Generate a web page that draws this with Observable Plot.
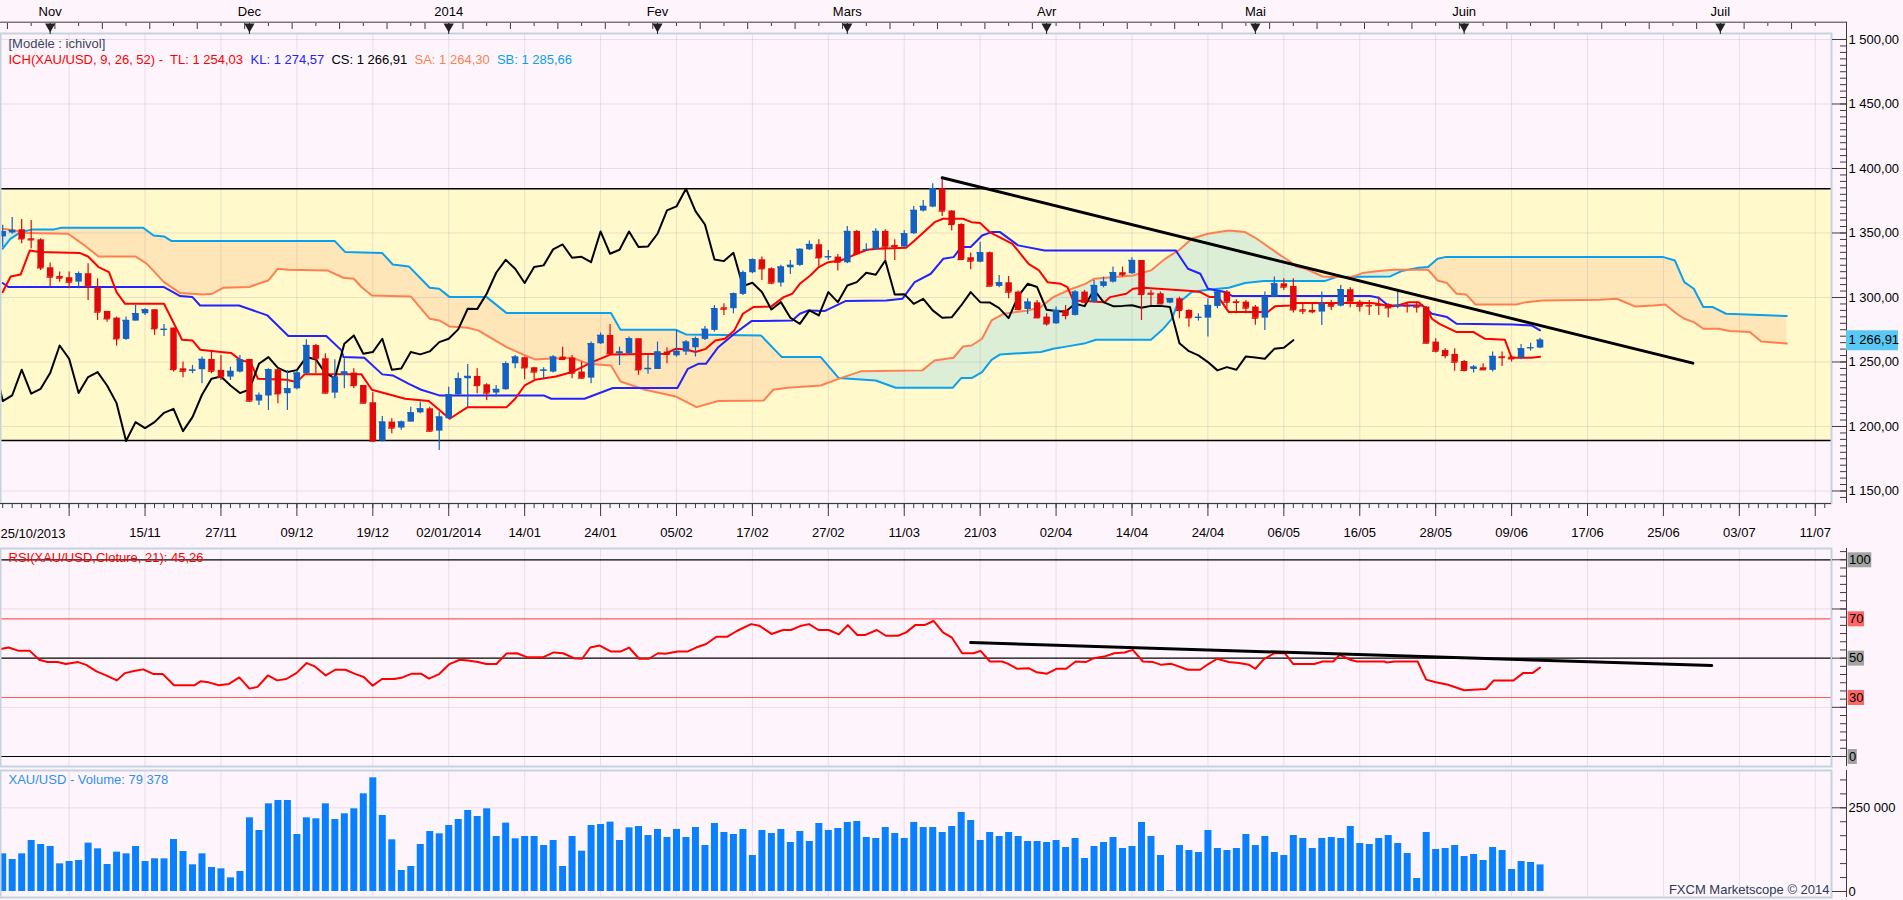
<!DOCTYPE html>
<html lang="fr">
<head>
<meta charset="utf-8">
<title>XAU/USD Ichimoku</title>
<script src="https://cdn.jsdelivr.net/npm/d3@7"></script>
<script src="https://cdn.jsdelivr.net/npm/@observablehq/plot@0.6"></script>
<style>
  html, body { margin: 0; padding: 0; background: #FEF5FC; }
  #chart { position: relative; width: 1903px; height: 900px; overflow: hidden; background: #FEF5FC; }
  #chart svg { position: absolute; left: 0; }
</style>
</head>
<body>
<div id="chart"></div>
<script>
// ---------------- DATA ----------------
// daily candles, bar index 0 = 25/10/2013 ... 162 = 12/06/2014
const open = [
1347,1350,1352.5,1345.5,1344.7,1323.0,1316.3,1315.3,1311.9,1318.4,
1307.5,1289.2,1284.0,1267.5,1281.7,1287.4,1290.5,1274.8,1276.3,1244.7,
1243.0,1244.0,1252.0,1243.5,1238.3,1242.2,1252.0,1219.7,1223.6,1244.0,
1225.4,1229.2,1240.9,1262.8,1252.5,1225.9,1239.6,1241.4,1231.8,1218.4,
1188.7,1203.4,1198.8,1203.4,1210.6,1213.7,1196.4,1206.0,1224.6,1237.0,
1238.8,1232.3,1225.9,1228.5,1248.6,1253.3,1245.5,1243.0,1242.2,1253.8,
1253.0,1242.2,1237.5,1264.1,1270.6,1256.4,1256.4,1268.0,1244.0,1244.2,
1257.7,1254.8,1257.7,1261.0,1267.5,1274.5,1292.0,1291.3,1302.4,1319.2,
1329.2,1322.3,1311.2,1323.0,1324.9,1337.0,1340.9,1331.0,1331.3,1326.9,
1351.2,1336.5,1337.3,1351.2,1340.4,1339.1,1349.4,1367.0,1370.1,1384.3,
1367.0,1356.6,1330.8,1327.4,1334.7,1308.6,1311.4,1304.2,1290.7,1295.9,
1284.8,1279.6,1290.0,1286.1,1304.2,1296.4,1308.6,1311.9,1319.2,1318.4,
1328.7,1303.4,1302.9,1295.7,1299.0,1290.0,1284.0,1284.0,1293.0,1304.2,
1296.7,1296.4,1292.6,1284.0,1300.3,1310.6,1308.6,1290.5,1290.0,1288.7,
1295.9,1293.3,1306.0,1296.4,1293.9,1294.5,1294.6,1293.0,1293.9,1293.9,
1292.6,1265.4,1258.9,1255.9,1250.4,1244.2,1245.5,1243.5,1254.0,1253.8,
1253.3,1260.5,1260.8];
const high = [
1356,1362,1360.5,1359.7,1345.5,1326.7,1319.7,1319.7,1319.7,1326.1,
1314.5,1289.2,1284.8,1284.8,1293.8,1291.3,1290.5,1279.1,1276.3,1249.9,
1247.3,1253.8,1259.0,1255.1,1246.0,1255.1,1252.0,1225.9,1244.8,1244.8,
1243.5,1243.5,1267.2,1263.6,1256.4,1251.7,1252.5,1244.8,1231.8,1226.1,
1207.8,1206.0,1204.2,1215.0,1218.9,1215.0,1211.2,1230.5,1241.4,1248.1,
1244.8,1233.1,1231.8,1249.9,1255.1,1253.8,1246.0,1245.5,1255.1,1261.5,
1255.1,1249.9,1265.4,1272.4,1279.1,1261.5,1269.3,1268.0,1255.1,1265.4,
1261.0,1274.5,1266.7,1269.3,1277.6,1293.8,1295.1,1303.4,1320.5,1330.0,
1331.3,1323.0,1324.9,1328.7,1337.8,1343.7,1344.7,1336.5,1333.4,1355.1,
1352.0,1341.6,1353.3,1352.5,1344.7,1352.0,1370.6,1375.2,1388.2,1392.8,
1367.5,1357.2,1334.4,1342.9,1335.2,1317.1,1316.3,1305.0,1299.0,1297.7,
1287.4,1292.6,1293.8,1305.5,1305.5,1313.2,1315.8,1323.6,1323.6,1330.8,
1328.7,1305.5,1304.2,1299.0,1300.3,1290.5,1287.4,1299.0,1305.5,1305.5,
1298.2,1297.7,1293.8,1304.2,1315.8,1314.5,1314.5,1295.1,1295.1,1304.2,
1297.7,1309.3,1307.5,1297.7,1297.7,1300.3,1295.1,1305.5,1296.4,1296.4,
1293.1,1268.0,1260.2,1260.2,1251.2,1247.3,1248.6,1257.7,1257.7,1255.0,
1263.6,1264.6,1268.5];
const low = [
1339,1349,1341.6,1337.8,1321.0,1308.6,1311.9,1306.8,1306.8,1297.7,
1282.2,1280.9,1262.3,1266.7,1281.7,1286.1,1270.6,1269.8,1242.2,1237.8,
1240.9,1233.1,1240.9,1235.7,1235.7,1241.4,1218.9,1216.3,1212.4,1217.6,
1212.4,1228.5,1240.4,1240.9,1225.4,1221.5,1229.2,1229.2,1217.6,1187.9,
1187.9,1194.4,1197.0,1203.4,1209.9,1195.7,1181.4,1206.0,1224.1,1215.0,
1225.4,1220.2,1222.8,1228.0,1244.8,1236.2,1236.2,1236.2,1241.4,1251.7,
1237.0,1237.0,1233.1,1263.6,1255.9,1247.3,1255.9,1239.6,1240.4,1244.2,
1248.6,1253.8,1255.1,1253.8,1266.7,1273.2,1286.1,1287.4,1301.6,1318.4,
1313.2,1309.9,1308.1,1317.9,1324.1,1336.5,1323.6,1328.7,1320.5,1326.1,
1333.4,1336.0,1336.5,1328.7,1328.7,1338.6,1348.9,1366.2,1369.6,1362.8,
1351.5,1328.7,1321.5,1326.9,1308.6,1307.5,1299.0,1290.0,1286.9,1283.5,
1277.8,1279.1,1282.7,1285.6,1295.1,1295.7,1307.5,1311.2,1315.8,1317.9,
1282.2,1293.8,1294.6,1295.1,1283.5,1277.0,1281.7,1269.3,1291.3,1291.3,
1287.4,1287.4,1278.4,1274.5,1299.8,1305.5,1287.9,1286.9,1287.4,1278.3,
1290.0,1292.6,1292.0,1288.7,1286.1,1286.1,1284.3,1291.3,1287.9,1288.0,
1264.1,1256.9,1252.5,1242.9,1242.2,1241.4,1243.5,1242.2,1246.6,1250.0,
1251.7,1258.4,1260.3];
const close = [
1351,1352,1345.5,1344.7,1323.0,1315.8,1315.0,1311.9,1318.4,1308.6,
1288.7,1283.5,1268.0,1282.2,1287.4,1290.5,1275.8,1275.3,1244.2,1242.9,
1243.7,1252.0,1242.9,1238.3,1242.7,1251.7,1219.7,1224.1,1244.0,1225.4,
1229.2,1241.4,1262.8,1252.5,1225.9,1238.3,1242.2,1231.8,1218.1,1188.7,
1203.4,1198.8,1203.4,1210.6,1213.7,1196.4,1207.3,1224.6,1237.0,1238.8,
1231.8,1225.9,1228.7,1248.6,1253.8,1245.5,1242.2,1243.7,1253.8,1252.0,
1241.4,1237.5,1264.1,1270.6,1256.4,1257.7,1268.0,1244.0,1245.0,1257.7,
1255.9,1258.2,1265.4,1268.0,1275.3,1291.3,1291.0,1302.9,1319.2,1329.2,
1322.3,1311.2,1323.6,1324.9,1337.3,1341.1,1330.8,1331.5,1327.4,1351.2,
1333.9,1337.0,1351.2,1339.1,1339.6,1349.4,1367.5,1370.6,1384.3,1367.0,
1356.6,1329.5,1328.2,1334.7,1308.8,1311.4,1304.2,1290.7,1296.4,1284.3,
1279.6,1290.0,1286.1,1304.2,1296.4,1309.3,1311.9,1319.2,1317.6,1328.7,
1302.4,1302.6,1295.1,1299.0,1290.0,1284.3,1284.6,1293.8,1304.2,1296.4,
1296.2,1291.8,1284.0,1300.8,1310.6,1308.1,1290.5,1289.5,1289.0,1295.1,
1293.3,1306.0,1296.4,1293.3,1293.5,1294.0,1292.0,1293.5,1293.5,1292.6,
1264.6,1258.4,1255.1,1249.9,1243.5,1246.0,1244.0,1254.3,1253.5,1252.5,
1260.2,1261.0,1266.91];
const volume = [
112500,95600,112500,152400,140400,134500,82700,89600,92600,144400,
127500,80700,117500,112500,134500,89600,97600,97600,155400,119500,
79700,112500,71700,67700,40800,59800,220100,182300,261900,271900,
271900,170300,220100,217100,261900,215100,232100,247000,291800,339600,
227100,154400,62700,74700,140400,179300,172300,197200,215100,242000,
224100,247000,164300,204200,157400,164300,164300,137400,152400,74700,
164300,120500,197200,200200,207200,152400,190200,194200,167300,185300,
161400,185300,161400,191200,137400,203200,176300,170300,185300,107600,
182300,173300,185300,146400,179300,149400,203200,182300,188200,206200,
209200,161400,158400,191200,173300,158400,206200,191200,191200,176300,
194200,236100,212100,152400,176300,164300,176300,164300,149400,149400,
146400,152400,131500,158400,98600,134500,146400,161400,128500,134500,
206200,164300,107600,2000,137400,122500,116500,182300,128500,122500,
128500,170300,137400,164300,116500,107600,167300,158400,128500,158400,
161400,158400,194200,143400,140400,158400,167300,143400,113500,38800,
176300,125500,128500,137400,104600,110600,92600,131500,122500,65700,
89600,86700,79378];

// Ichimoku lines: [bar index, price]
const tenkan = [[0,1304.2],[0.84,1316.3],[1.9,1317.9],[2.86,1336.5],[3.85,1335.2],[8.15,1334.4],[9,1331.8],[10.1,1323.6],[11.2,1319.7],[12,1304.2],[12.9,1295.1],[17,1295.1],[18.9,1267.2],[20,1266.7],[20.8,1259.5],[23,1257.7],[24.1,1256.9],[25.1,1251.2],[26.1,1249.9],[26.9,1237.0],[29.9,1236.2],[31,1234.4],[31.8,1240.4],[37.8,1240.4],[38.9,1228.5],[42.4,1221.5],[44.9,1219.7],[47.1,1206.0],[49,1215.0],[53.1,1215.0],[54,1221.5],[55,1231.8],[56.1,1236.2],[58.3,1238.8],[60,1242.2],[62.1,1249.9],[64.1,1255.9],[69.8,1256.4],[70.9,1260.2],[72,1259.7],[73,1257.7],[74.1,1260.2],[75.1,1266.7],[76.1,1268.0],[77.1,1274.5],[78,1287.4],[79.1,1292.6],[81,1293.1],[82.3,1300.3],[83.2,1302.9],[84,1310.6],[85.1,1317.1],[86,1323.6],[87,1327.4],[88.3,1328.7],[89.2,1331.3],[90,1333.9],[91.1,1337.0],[92.2,1337.8],[95.2,1338.6],[96.1,1344.2],[98.2,1358.4],[99.1,1361.0],[101.2,1361.0],[102.1,1358.4],[103,1357.7],[104,1350.7],[106.4,1341.6],[108.1,1326.1],[109.2,1321.0],[110.1,1311.9],[111.5,1310.6],[112.2,1308.1],[112.8,1297.7],[114.1,1297.2],[116.1,1296.4],[116.7,1300.3],[118.4,1302.9],[119.1,1306.8],[120.2,1307.5],[125.3,1305.0],[126.2,1304.2],[127.2,1300.3],[128.1,1300.3],[129.2,1288.7],[133.3,1288.7],[134.1,1293.3],[135.7,1293.8],[136.3,1295.7],[144.3,1295.7],[145.3,1294.6],[146.2,1293.1],[147,1293.8],[148.2,1296.4],[149.2,1296.4],[150.2,1290.0],[150.6,1283.5],[151.4,1279.6],[153.2,1273.2],[155,1273.2],[156.2,1268.0],[158.3,1267.2],[159,1253.3],[161.1,1253.3],[162,1254.03]];
const kijun = [[0,1311.2],[0.6,1308.1],[17,1308.1],[18.7,1301.1],[20,1300.3],[20.8,1293.8],[24.9,1293.8],[27.9,1286.1],[30.1,1270.1],[34.1,1270.1],[35.7,1259.0],[35.9,1253.8],[38.1,1253.3],[40,1240.4],[41.1,1239.6],[42.8,1233.1],[44.1,1228.5],[46,1224.1],[57,1224.1],[57.8,1221.5],[61.3,1221.5],[64.3,1229.8],[71.1,1229.8],[72.2,1244.7],[73.3,1248.6],[74.1,1248.6],[75.4,1261.5],[77.1,1271.9],[78.9,1281.7],[83.2,1282.2],[84,1287.4],[84.9,1290.0],[86.6,1289.5],[88.8,1297.2],[93.1,1297.7],[94.8,1299.0],[96.1,1311.9],[97.8,1318.4],[99.1,1330.0],[100.2,1331.3],[101,1339.1],[102,1339.1],[103.2,1348.1],[104.2,1350.7],[105.1,1350.7],[107,1340.4],[109.8,1336.5],[123.6,1336.5],[124.9,1322.3],[126.2,1318.4],[127,1306.8],[128.8,1304.2],[129.6,1301.1],[144.1,1301.1],[145,1299.8],[146,1293.8],[149.6,1293.8],[150.6,1287.4],[152.2,1284.8],[153.2,1279.6],[159.1,1279.1],[161.1,1278.3],[162,1274.57]];
const senkouA = [[0,1353.3],[1.3,1352.0],[2.4,1349.9],[6.9,1349.4],[8.4,1341.6],[10.1,1331.8],[14,1331.8],[15.2,1326.1],[17,1311.9],[18.7,1303.4],[21.1,1302.4],[22.1,1302.9],[23.2,1307.5],[26,1308.1],[26.9,1310.6],[28,1313.2],[29,1322.3],[30.1,1321.5],[34.2,1321.0],[35.9,1315.3],[37,1314.5],[37.8,1308.1],[38.9,1301.6],[43,1300.8],[45,1283.5],[46,1282.2],[47.1,1277.6],[49,1276.5],[50.1,1274.5],[53.1,1261.5],[54.8,1255.9],[56.1,1252.0],[57.4,1252.5],[60,1253.3],[61.7,1248.6],[64.1,1247.3],[65.1,1234.9],[67.7,1228.5],[70.9,1223.3],[73.1,1215.0],[75.4,1219.7],[80.2,1220.2],[81.2,1228.5],[82.7,1230.0],[86.2,1231.8],[88.3,1237.5],[90.5,1242.9],[96.9,1243.5],[98.2,1251.2],[100.2,1253.3],[101.2,1262.1],[102.1,1262.8],[103.2,1268.0],[104.2,1282.2],[105.5,1287.4],[108.1,1290.0],[109.4,1292.6],[110.7,1300.3],[112.4,1306.0],[114.1,1310.6],[115,1314.5],[119.1,1317.1],[121,1321.0],[122.5,1330.0],[124,1337.0],[125.3,1345.5],[127,1349.4],[129.2,1352.0],[130.9,1350.7],[132,1346.3],[134.5,1333.4],[135.5,1328.7],[136.3,1324.1],[137.3,1322.3],[139.1,1316.3],[140.1,1315.8],[142.1,1315.8],[143.3,1318.9],[145,1320.5],[146.6,1321.5],[150.2,1321.5],[151.2,1313.2],[152.2,1311.2],[153.2,1302.9],[154.2,1302.4],[155.2,1294.6],[159.5,1294.6],[160.5,1296.4],[162.3,1297.7],[168.3,1298.2],[170.1,1299.0],[172,1293.1],[174,1293.8],[175.2,1294.6],[176.4,1287.4],[177.2,1283.5],[178.2,1280.9],[179.2,1275.8],[180.8,1275.8],[182,1274.0],[184.1,1273.2],[185.3,1265.9],[188,1264.3]];
const senkouB = [[0,1337.8],[0.8,1345.5],[1.9,1350.7],[3.2,1352.8],[5.4,1352.8],[6.2,1354.1],[14.8,1354.1],[15.9,1348.1],[17,1347.3],[17.8,1343.7],[35,1343.7],[36.1,1335.2],[40,1334.4],[41.1,1325.6],[42.8,1324.1],[45,1307.5],[46,1306.8],[47.1,1300.3],[51,1300.3],[53.1,1287.9],[64.1,1287.9],[65.1,1275.0],[70.9,1275.0],[72,1271.4],[79.9,1270.6],[82.1,1253.8],[86.2,1253.8],[88.1,1237.5],[92,1235.7],[94.1,1230.0],[100.1,1230.0],[101,1237.5],[102.1,1237.5],[103.2,1242.2],[104.2,1251.7],[105.1,1255.9],[109.4,1257.7],[110.7,1260.2],[112.2,1262.1],[114.1,1264.6],[115.2,1267.2],[121,1267.2],[122.3,1275.8],[123.2,1283.5],[123.8,1295.1],[125.3,1304.2],[127,1306.0],[129.2,1307.5],[130.9,1311.2],[132.9,1312.7],[139.3,1312.7],[140.5,1315.8],[146.2,1316.3],[147.4,1320.5],[149.2,1323.0],[150.2,1323.6],[151.2,1330.0],[152,1331.3],[175,1331.3],[176.2,1328.7],[177.2,1311.9],[178.2,1306.8],[179.2,1292.6],[180.2,1292.6],[181.6,1287.4],[188,1285.66]];
const priceTrend = [[99,1392.8],[178.1,1249.1]];
const channel = [1189.2, 1384.3];

// RSI(21): [bar index, value]
const rsi = [[-0.23,54.7],[0.63,55.4],[1.7,53.7],[2.86,53.7],[3.85,49.2],[4.71,48.0],[5.79,48.0],[6.65,47.0],[7.94,48.0],[8.8,46.6],[9.88,43.3],[10.95,41.1],[12.03,38.7],[12.89,42.4],[13.96,43.6],[14.82,44.3],[15.9,41.9],[16.88,41.9],[18.05,36.2],[20.2,36.2],[20.84,38.2],[21.7,37.7],[22.78,36.2],[23.85,36.9],[24.93,40.2],[26.0,34.5],[26.86,35.4],[27.94,41.2],[28.93,38.7],[29.88,39.4],[30.95,42.4],[32.03,47.5],[32.89,45.8],[34.05,41.2],[35.04,44.1],[36.11,44.1],[37.19,41.9],[38.05,40.4],[38.99,36.0],[39.98,39.4],[41.27,39.4],[42.13,40.2],[43.12,42.1],[44.07,42.1],[44.93,39.6],[46.0,41.9],[47.08,47.0],[48.16,49.2],[49.02,48.8],[50.09,48.0],[50.95,47.0],[52.03,47.0],[53.1,52.4],[54.18,52.5],[55.25,50.5],[56.97,50.5],[58.05,52.9],[59.04,52.5],[60.2,50.0],[61.06,49.7],[61.92,55.4],[62.91,56.4],[64.07,53.4],[65.15,53.4],[66.0,55.4],[67.06,49.7],[68.1,49.7],[69.06,52.5],[69.83,52.2],[71.12,53.4],[72.2,53.4],[73.06,55.4],[74.13,57.2],[75.21,60.9],[76.37,60.9],[77.36,63.8],[78.86,67.3],[79.72,66.5],[81.01,62.3],[82.22,64.3],[83.08,64.3],[84.02,66.3],[84.97,67.3],[85.96,64.3],[87.04,64.3],[88.11,62.1],[89.06,66.8],[90.05,61.8],[90.91,61.8],[92.11,64.3],[93.06,61.4],[94.35,61.4],[95.21,63.1],[96.15,66.8],[97.14,66.8],[98.09,68.9],[99.08,63.1],[100.03,60.4],[101.1,52.5],[102.3,52.5],[103.04,53.7],[104.03,48.3],[105.32,48.3],[105.96,47.1],[106.91,44.6],[108.11,44.9],[108.97,42.8],[110.05,42.1],[111.04,44.6],[112.07,44.6],[113.06,48.3],[114.13,48.0],[114.99,50.0],[116.07,50.8],[117.14,52.5],[118.22,52.9],[119.08,54.2],[120.15,48.3],[121.23,48.0],[122.09,46.6],[123.16,47.1],[124.88,44.1],[126.17,44.1],[127.04,47.0],[127.98,49.7],[129.19,48.0],[130.26,47.5],[131.34,46.6],[132.0,44.6],[132.9,49.5],[134.0,52.5],[135.1,52.5],[136.0,47.0],[138.2,47.0],[139.1,48.3],[140.2,48.3],[140.9,51.7],[142.0,49.2],[142.7,48.3],[145.6,48.3],[145.8,47.8],[146.7,48.3],[149.1,48.3],[150.0,39.1],[150.9,37.9],[152.3,36.5],[154.0,33.7],[156.3,34.3],[157.1,38.6],[159.2,38.6],[160.2,42.4],[161.2,42.4],[162.0,45.26]];
const rsiTrend = [[102,57.9],[180.1,46.3]];
const rsiLevels = [100, 70, 50, 30, 0];
const rsiGrid = [25, 75];

// axes / labels
const monthIdx = [5, 26, 47, 69, 89, 110, 132, 154, 181];
const monthLabels = ["Nov", "Dec", "2014", "Fev", "Mars", "Avr", "Mai", "Juin", "Juil"];
const weekIdx = [1,6,11,16,21,26,31,36,41,45,49,54,59,64,69,74,79,84,89,94,99,104,109,114,119,124,129,134,139,144,149,154,159,164,169,174,179,184,189];
const dateTickIdx = [7,15,23,31,39,47,55,63,71,79,87,95,103,111,119,127,135,143,151,159,167,175,183,191];
const dateLabels = ["","15/11","27/11","09/12","19/12","02/01/2014","14/01","24/01","05/02","17/02","27/02","11/03","21/03","02/04","14/04","24/04","06/05","16/05","28/05","09/06","17/06","25/06","03/07","11/07"];
const firstDateLabel = "25/10/2013";
const priceTicks = [1150, 1200, 1250, 1300, 1350, 1400, 1450, 1500];
const volTicks = [0, 250000];
const legendModel = "[Modèle : ichivol]";
const legendParts = ["ICH(XAU/USD, 9, 26, 52) -  TL: 1 254,03", "KL: 1 274,57", "CS: 1 266,91", "SA: 1 264,30", "SB: 1 285,66"];
const rsiTitle = "RSI(XAU/USD,Cloture, 21): 45,26";
const volTitle = "XAU/USD - Volume: 79 378";
const credit = "FXCM Marketscope © 2014";

// ---------------- STYLE / LAYOUT ----------------
const FONT = '"Liberation Sans", Arial, sans-serif';
const C = {
  blue: "#1461C4", red: "#E00A0A", tenkan: "#FF0000", kijun: "#2323FF", ssa: "#FF7F50", ssb: "#0AA0EC",
  band: "#FFF9CC", cloudUp: "#DCEFD6", cloudDown: "#FFE6B8", grid: "#8A809E", frame: "#C6D3DD",
  axis: "#3C3C3C", vol: "#0A80FF", rsi: "#FF0000", rsiBand: "#FF5A5A", hl: "#5AC8F5", boxGrey: "#A3A3A3", boxRed: "#FF6666"
};
const legendColors = [C.tenkan, C.kijun, "#000000", C.ssa, C.ssb];
const W = 1903, FRAME_R = 1831, MR = W - FRAME_R;
const X0 = -0.2318, X1 = 192.71;          // bar-index extent of the plot frames
const Y_MAIN = [1140.3, 1504.65], Y_RSI = [-5.08, 105.74], Y_VOL = [-17921, 361400];
const baseStyle = {background: "transparent", fontFamily: FONT, fontSize: "13px", color: "#000", overflow: "visible"};
const loc = d3.formatLocale({decimal: ",", thousands: " ", grouping: [3], currency: ["", ""]});
const fmtPrice = loc.format(",.2f"), fmtVol = loc.format(",d");
const meas = document.createElement("canvas").getContext("2d");
meas.font = '13px "Liberation Sans", Arial, sans-serif';
const tw = s => meas.measureText(s).width;

// ---------------- DERIVED TABLES ----------------
const bars = close.map((c, i) => ({i, o: open[i], h: high[i], l: low[i], c, col: c >= open[i] ? C.blue : C.red}));
const chikou = close.slice(25).map((c, k) => [k - 1, c]);     // lagging span = close shifted 26 bars back
const vol = volume.map((v, i) => ({i, v}));
function valueAt(series, x) {
  if (x <= series[0][0]) return series[0][1];
  for (let k = 1; k < series.length; k++) {
    const [xa, ya] = series[k - 1], [xb, yb] = series[k];
    if (x <= xb) return ya + (yb - ya) * (x - xa) / (xb - xa);
  }
  return series[series.length - 1][1];
}
const cloudX = Array.from(new Set([...senkouA, ...senkouB].map(d => d[0]))).sort((a, b) => a - b);
const cloud = [];
cloudX.forEach(x => {
  const a = valueAt(senkouA, x), b = valueAt(senkouB, x);
  if (cloud.length) {
    const p = cloud[cloud.length - 1], d0 = p.a - p.b, d1 = a - b;
    if (d0 * d1 < 0) { const t = d0 / (d0 - d1); const yc = p.a + t * (a - p.a); cloud.push({i: p.i + t * (x - p.i), a: yc, b: yc}); }
  }
  cloud.push({i: x, a, b});
});
const label = new Map(dateTickIdx.map((d, k) => [d, dateLabels[k]]));
const minor = (lo, hi, step) => d3.range(lo, hi + 1e-6, step);
const xs = d => d[0], ys = d => d[1];
const chart = document.getElementById("chart");
function place(svg, top) { svg.style.top = top + "px"; chart.appendChild(svg); }
const lastClose = close[close.length - 1];

// ---------------- MAIN PANEL ----------------
const legendMarks = [Plot.text([legendModel], {frameAnchor: "top-left", dx: 8, dy: 10.3, text: d => d, fill: "#3A4660", textAnchor: "start", lineAnchor: "middle"})];
let lx = 8;
legendParts.forEach((t, k) => {
  legendMarks.push(Plot.text([t], {frameAnchor: "top-left", dx: lx, dy: 26, text: d => d, fill: legendColors[k], textAnchor: "start", lineAnchor: "middle"}));
  lx += tw(t) + 7.2;
});

const main = Plot.plot({
  width: W, height: 547, marginTop: 33, marginBottom: 44, marginLeft: 0, marginRight: MR,
  style: baseStyle,
  x: {domain: [X0, X1], axis: null, label: null},
  y: {domain: Y_MAIN, axis: null, label: null},
  marks: [
    Plot.rect([channel], {x1: () => X0, x2: () => X1, y1: d => d[0], y2: d => d[1], fill: C.band}),
    Plot.areaY(cloud, {x: "i", y1: "a", y2: d => Math.max(d.a, d.b), fill: C.cloudDown, clip: true}),
    Plot.areaY(cloud, {x: "i", y1: "b", y2: d => Math.max(d.a, d.b), fill: C.cloudUp, clip: true}),
    Plot.gridX(dateTickIdx, {stroke: C.grid, strokeOpacity: 0.2}),
    Plot.gridY(priceTicks, {stroke: C.grid, strokeOpacity: 0.2}),
    Plot.ruleY(channel, {stroke: "#000", strokeWidth: 1.5}),
    Plot.line(senkouB, {x: xs, y: ys, stroke: C.ssb, strokeWidth: 2, clip: true}),
    Plot.line(senkouA, {x: xs, y: ys, stroke: C.ssa, strokeWidth: 2, clip: true}),
    Plot.line(kijun, {x: xs, y: ys, stroke: C.kijun, strokeWidth: 2, clip: true}),
    Plot.line(tenkan, {x: xs, y: ys, stroke: C.tenkan, strokeWidth: 2, clip: true}),
    Plot.line(chikou, {x: xs, y: ys, stroke: "#000", strokeWidth: 2, clip: true}),
    Plot.ruleX(bars, {x: "i", y1: "l", y2: "h", stroke: "col", strokeWidth: 1.2, clip: true}),
    Plot.ruleX(bars, {x: "i", y1: "o", y2: "c", stroke: "col", strokeWidth: 6.5, clip: true}),
    Plot.ruleY(bars, {y: "c", x1: d => d.i - 0.34, x2: d => d.i + 0.34, stroke: "col", strokeWidth: 1.3, clip: true}),
    Plot.line(priceTrend, {x: xs, y: ys, stroke: "#000", strokeWidth: 3}),
    ...legendMarks,
    Plot.frame({stroke: C.frame, strokeWidth: 2}),
    // top (month) axis
    Plot.ruleY([Y_MAIN[1]], {dy: -11.3, stroke: C.axis, insetRight: -15}),
    Plot.axisX(weekIdx.map(d => d - 0.5), {anchor: "top", tickSize: 6, dy: -5, tickFormat: () => "", stroke: C.axis, label: null}),
    Plot.axisX(weekIdx.map(d => d + 2), {anchor: "top", tickSize: 3, dy: -8, tickFormat: () => "", stroke: C.axis, label: null}),
    Plot.axisX(monthIdx, {anchor: "top", tickSize: 11, tickFormat: () => "", stroke: "#222", label: null}),
    Plot.dot(monthIdx, {x: d => d, frameAnchor: "top", dy: -7, symbol: "triangle", r: 3.8, rotate: 180, fill: "#222", stroke: "none"}),
    Plot.text(monthIdx, {x: d => d, frameAnchor: "top", dy: -22, text: (d, i) => monthLabels[i], lineAnchor: "middle", fill: "#000"}),
    // bottom (date) axis
    Plot.ruleY([Y_MAIN[0]], {stroke: C.axis}),
    Plot.axisX(d3.range(0, 193), {anchor: "bottom", tickSize: 5, tickFormat: () => "", stroke: C.axis, label: null}),
    Plot.axisX(dateTickIdx, {anchor: "bottom", tickSize: 13, tickPadding: 11, tickFormat: d => label.get(d), stroke: C.axis, fill: "#000", label: null}),
    Plot.text([firstDateLabel], {frameAnchor: "bottom-left", dy: 30, text: d => d, textAnchor: "start", lineAnchor: "middle", fill: "#000"}),
    // right (price) axis
    Plot.ruleX([X1], {dx: 15, stroke: C.axis, insetTop: -11.3}),
    Plot.axisY(minor(1145, 1504, 5), {anchor: "right", tickSize: 6, dx: 8, tickFormat: () => "", stroke: C.axis, label: null}),
    Plot.ruleY([lastClose], {x1: () => X1, x2: () => X1, dx: 15, insetRight: -52, strokeWidth: 20, stroke: C.hl}),
    Plot.axisY(priceTicks, {anchor: "right", tickSize: 14, tickPadding: 3, tickFormat: fmtPrice, stroke: C.axis, fill: "#000", label: null}),
    Plot.text([lastClose], {x: () => X1, y: d => d, dx: 17, text: fmtPrice, textAnchor: "start", lineAnchor: "middle", fill: "#000"})
  ]
});
place(main, 0);

// ---------------- RSI PANEL ----------------
const rsiBoxes = rsiLevels.map(v => {
  const t = String(v), w = tw(t) + 2;
  const fill = (v === 70 || v === 30) ? C.boxRed : C.boxGrey;
  return Plot.ruleY([v], {x1: () => X1, x2: () => X1, dx: 16.6, insetRight: -w, strokeWidth: 15, stroke: fill});
});
const rsiPlot = Plot.plot({
  width: W, height: 218, marginTop: 0, marginBottom: 0, marginLeft: 0, marginRight: MR,
  style: baseStyle,
  x: {domain: [X0, X1], axis: null, label: null},
  y: {domain: Y_RSI, axis: null, label: null},
  marks: [
    Plot.gridX(dateTickIdx, {stroke: C.grid, strokeOpacity: 0.2}),
    Plot.gridY(rsiGrid, {stroke: C.grid, strokeOpacity: 0.2}),
    Plot.ruleY([100, 50, 0], {stroke: "#000", strokeWidth: 1.2}),
    Plot.ruleY([70, 30], {stroke: C.rsiBand, strokeWidth: 1.2}),
    Plot.line(rsi, {x: xs, y: ys, stroke: C.rsi, strokeWidth: 2, clip: true}),
    Plot.line(rsiTrend, {x: xs, y: ys, stroke: "#000", strokeWidth: 3}),
    Plot.text([rsiTitle], {frameAnchor: "top-left", dx: 8, dy: 9.3, text: d => d, fill: C.rsi, textAnchor: "start", lineAnchor: "middle"}),
    Plot.frame({stroke: C.frame, strokeWidth: 2}),
    Plot.ruleX([X1], {dx: 15, stroke: C.axis}),
    Plot.axisY(minor(0, 105, 25 / 6), {anchor: "right", tickSize: 6, dx: 8, tickFormat: () => "", stroke: C.axis, label: null}),
    Plot.axisY([0, 25, 50, 75, 100], {anchor: "right", tickSize: 14, tickFormat: () => "", stroke: C.axis, label: null}),
    ...rsiBoxes,
    Plot.text(rsiLevels, {x: () => X1, y: d => d, dx: 17.5, text: d => String(d), textAnchor: "start", lineAnchor: "middle", fill: "#000"})
  ]
});
place(rsiPlot, 548);

// ---------------- VOLUME PANEL ----------------
const volPlot = Plot.plot({
  width: W, height: 127, marginTop: 0, marginBottom: 0, marginLeft: 0, marginRight: MR,
  style: baseStyle,
  x: {domain: [X0, X1], axis: null, label: null},
  y: {domain: Y_VOL, axis: null, label: null},
  marks: [
    Plot.gridX(dateTickIdx, {stroke: C.grid, strokeOpacity: 0.2}),
    Plot.gridY([250000], {stroke: C.grid, strokeOpacity: 0.2}),
    Plot.ruleX(vol, {x: "i", y1: () => 0, y2: "v", stroke: C.vol, strokeWidth: 7, clip: true}),
    Plot.text([volTitle], {frameAnchor: "top-left", dx: 8, dy: 9.3, text: d => d, fill: "#2E8FF0", textAnchor: "start", lineAnchor: "middle"}),
    Plot.text([credit], {frameAnchor: "bottom-right", dx: -2, dy: -8, text: d => d, fill: "#2C3A58", textAnchor: "end", lineAnchor: "middle"}),
    Plot.frame({stroke: C.frame, strokeWidth: 2}),
    Plot.ruleX([X1], {dx: 15, stroke: C.axis}),
    Plot.axisY(minor(0, 360000, 250000 / 6), {anchor: "right", tickSize: 6, dx: 8, tickFormat: () => "", stroke: C.axis, label: null}),
    Plot.axisY(volTicks, {anchor: "right", tickSize: 14, tickPadding: 3, tickFormat: fmtVol, stroke: C.axis, fill: "#000", label: null})
  ]
});
place(volPlot, 770);
</script>
</body>
</html>
